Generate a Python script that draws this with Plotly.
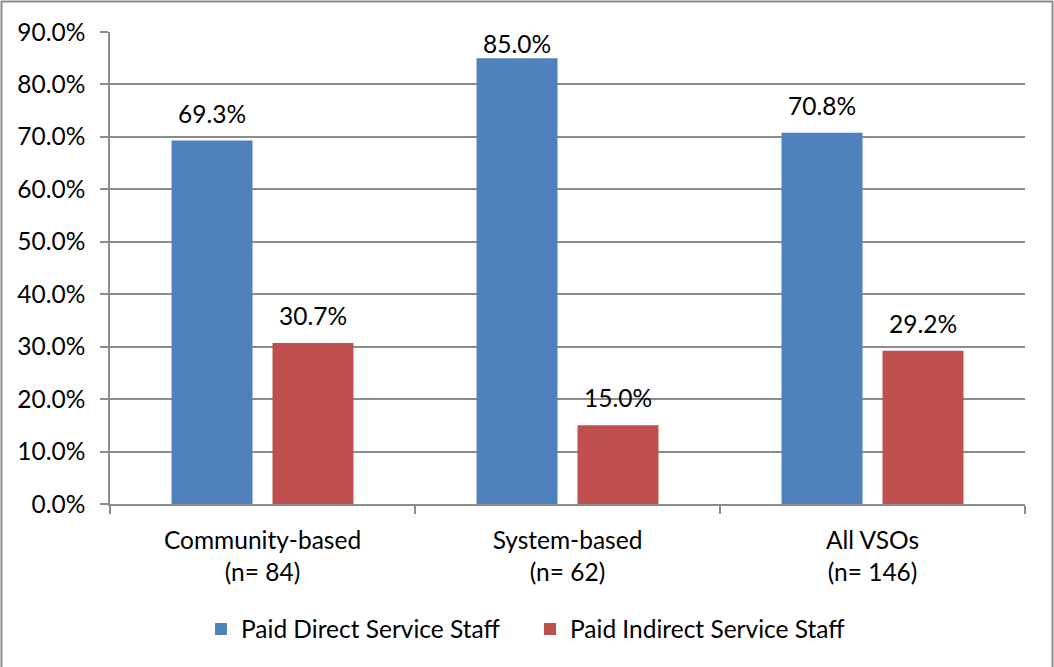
import plotly.graph_objects as go

# Share of paid staff by VSO type
categories = ["Community-based<br>(n= 84)", "System-based<br>(n= 62)", "All VSOs<br>(n= 146)"]
direct_staff = [69.3, 85.0, 70.8]
indirect_staff = [30.7, 15.0, 29.2]
series_names = ["Paid Direct Service Staff", "Paid Indirect Service Staff"]
colors = ["#4F81BD", "#C0504D"]

Y_MAX = 90
FONT = dict(family="Lato, 'Open Sans', sans-serif", size=24.5, color="#000000")
GRID = "#8C8C8C"

W, H = 1054, 667
M = dict(l=110, r=29, t=32, b=163)
PLOT_H = H - M["t"] - M["b"]
PLOT_W = W - M["l"] - M["r"]

BARGAP = 0.338
BARGROUPGAP = 0.198

fig = go.Figure()
for name, vals, col in zip(series_names, [direct_staff, indirect_staff], colors):
    fig.add_trace(go.Bar(
        x=categories, y=vals, name=name,
        marker=dict(color=col, line=dict(width=0)),
        hoverinfo="skip",
    ))

# value labels above each bar
slot_px = PLOT_W / len(categories) * (1 - BARGAP) / 2
annotations = []
for si, vals in enumerate([direct_staff, indirect_staff]):
    xshift = (si - 0.5) * slot_px
    for cat, v in zip(categories, vals):
        room = (Y_MAX - v) / Y_MAX * PLOT_H
        label = f"{v:.1f}%"
        if room > 42:
            annotations.append(dict(x=cat, y=v, xref="x", yref="y", text=label,
                                    showarrow=False, yanchor="bottom", xshift=xshift,
                                    yshift=11, font=FONT))
        else:
            annotations.append(dict(x=cat, y=1, xref="x", yref="paper", text=label,
                                    showarrow=False, yanchor="top", xshift=xshift,
                                    yshift=5, font=FONT))

fig.update_layout(
    width=W, height=H,
    margin=M,
    paper_bgcolor="white", plot_bgcolor="white",
    font=FONT,
    barmode="group", bargap=BARGAP, bargroupgap=BARGROUPGAP,
    showlegend=True,
    legend=dict(orientation="h", x=(530 - M["l"]) / PLOT_W, xanchor="center",
                y=(504 - 629) / PLOT_H, yanchor="middle", font=FONT,
                itemwidth=30, entrywidth=284, entrywidthmode="pixels",
                traceorder="normal"),
    annotations=annotations,
    shapes=[dict(type="rect", xref="paper", yref="paper",
                 x0=(1.5 - M["l"]) / PLOT_W, x1=(1052.5 - M["l"]) / PLOT_W,
                 y0=(504 - 700) / PLOT_H, y1=(504 - 1.5) / PLOT_H,
                 line=dict(color="#8C8C8C", width=2), layer="below")],
)

fig.update_yaxes(
    range=[0, Y_MAX], dtick=10, tickformat=".1f", ticksuffix="%",
    showgrid=True, gridcolor=GRID, gridwidth=1.5,
    showline=True, linecolor=GRID, linewidth=1.5,
    ticks="outside", ticklen=8, tickcolor=GRID, tickwidth=1.5,
    ticklabelstandoff=10, zeroline=False, fixedrange=True,
)
fig.update_xaxes(
    showline=True, linecolor=GRID, linewidth=1.5,
    ticks="outside", ticklen=8, tickcolor=GRID, tickwidth=1.5,
    tickson="boundaries", ticklabelstandoff=14, showgrid=False, fixedrange=True,
)

fig.write_html("out.html", config={"displayModeBar": False})
